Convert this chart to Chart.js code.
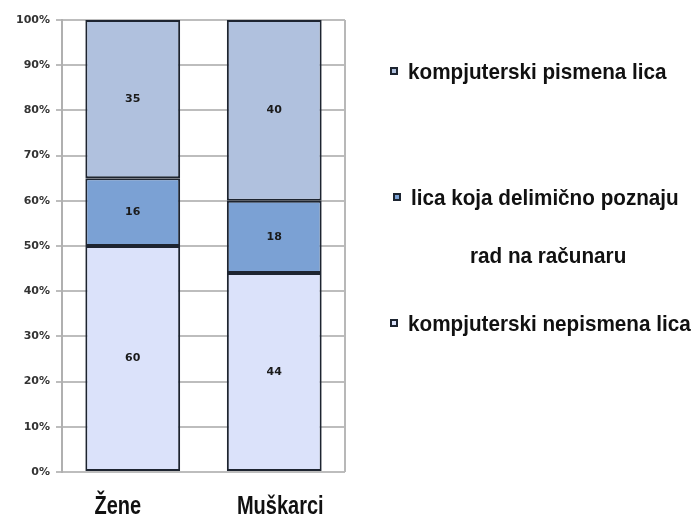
<!DOCTYPE html>
<html>
<head>
<meta charset="utf-8">
<script src="https://cdn.jsdelivr.net/npm/chart.js@4"></script>
<style>
  html, body { margin: 0; padding: 0; background: #fff; }
</style>
</head>
<body>
<canvas id="chart" width="694" height="517"></canvas>
<script>
// ── Data ───────────────────────────────────────────────────────────────
const categories = ['Žene', 'Muškarci'];

// shares as drawn (percent of each bar)
const nepismena  = [50, 44];
const delimicno  = [15, 16];
const pismena    = [35, 40];

// numbers printed inside the segments
const nepismenaText = ['60', '44'];
const delimicnoText = ['16', '18'];
const pismenaText   = ['35', '40'];

const yTicks = [0, 10, 20, 30, 40, 50, 60, 70, 80, 90, 100];

// legend, top to bottom: dataset index + text lines
const legendItems = [
  { ds: 2, lines: ['kompjuterski pismena lica'] },
  { ds: 1, lines: ['lica koja delimično poznaju', 'rad na računaru'] },
  { ds: 0, lines: ['kompjuterski nepismena lica'] },
];

const EDGE = '#1d2430';
const NARROW = 0.8;   // the source font is a condensed one

// ── Segment labels ──────────────────────────────────────────────────────
const segLabels = {
  id: 'segLabels',
  afterDatasetsDraw(chart) {
    const ctx = chart.ctx;
    ctx.save();
    ctx.font = 'bold 11px "DejaVu Sans", sans-serif';
    ctx.fillStyle = '#1a1a1a';
    ctx.textAlign = 'center';
    ctx.textBaseline = 'middle';
    chart.data.datasets.forEach((ds, i) => {
      chart.getDatasetMeta(i).data.forEach((bar, j) => {
        const p = bar.getProps(['x', 'y', 'base'], true);
        ctx.fillText(ds.texts[j], p.x, (p.y + p.base) / 2);
      });
    });
    ctx.restore();
  }
};

// right border of the plot
const plotFrame = {
  id: 'plotFrame',
  beforeDatasetsDraw(chart) {
    const { ctx, chartArea: a } = chart;
    ctx.save();
    ctx.strokeStyle = '#b8b8b8';
    ctx.lineWidth = 2;
    ctx.beginPath();
    ctx.moveTo(a.right, a.top);
    ctx.lineTo(a.right, a.bottom);
    ctx.stroke();
    ctx.restore();
  }
};

// condensed category names under the bars
const xNames = {
  id: 'xNames',
  afterDraw(chart) {
    const ctx = chart.ctx;
    const xs = chart.scales.x;
    const shift = [-15, 6];
    ctx.save();
    ctx.font = 'bold 25px "Liberation Sans", Arial, sans-serif';
    ctx.fillStyle = '#111';
    ctx.textAlign = 'center';
    ctx.textBaseline = 'alphabetic';
    categories.forEach((c, i) => {
      const x = xs.getPixelForValue(i) + shift[i];
      ctx.save();
      ctx.translate(x, 514);
      ctx.scale(NARROW, 1);
      ctx.fillText(c, 0, 0);
      ctx.restore();
    });
    ctx.restore();
  }
};

// legend on the right
const sideLegend = {
  id: 'sideLegend',
  afterDraw(chart) {
    const ctx = chart.ctx;
    const rows = [
      [{ x: 408, y: 79 }],
      [{ x: 411, y: 205 }, { x: 470, y: 263 }],
      [{ x: 408, y: 331 }],
    ];
    const marks = [{ x: 390, y: 67 }, { x: 393, y: 193 }, { x: 390, y: 319 }];
    ctx.save();
    ctx.font = 'bold 22px "Liberation Sans", Arial, sans-serif';
    ctx.textBaseline = 'alphabetic';
    legendItems.forEach((it, k) => {
      const m = marks[k];
      ctx.fillStyle = chart.data.datasets[it.ds].backgroundColor;
      ctx.fillRect(m.x, m.y, 8, 8);
      ctx.strokeStyle = EDGE;
      ctx.lineWidth = 2;
      ctx.strokeRect(m.x + 1, m.y + 1, 6, 6);
      ctx.fillStyle = '#111';
      it.lines.forEach((t, l) => {
        const p = rows[k][l];
        ctx.save();
        ctx.translate(p.x, p.y);
        ctx.scale(0.94, 1);
        ctx.fillText(t, 0, 0);
        ctx.restore();
      });
    });
    ctx.restore();
  }
};

// ── Chart ───────────────────────────────────────────────────────────────
new Chart(document.getElementById('chart'), {
  type: 'bar',
  data: {
    labels: categories,
    datasets: [
      { label: 'kompjuterski nepismena lica', data: nepismena, texts: nepismenaText, backgroundColor: '#dbe2fa' },
      { label: 'lica koja delimično poznaju rad na računaru', data: delimicno, texts: delimicnoText, backgroundColor: '#7ba1d4' },
      { label: 'kompjuterski pismena lica', data: pismena, texts: pismenaText, backgroundColor: '#b0c1de' },
    ].map(d => Object.assign(d, {
      borderColor: EDGE,
      borderWidth: 2,
      borderSkipped: false,
      barPercentage: 0.67,
      categoryPercentage: 1,
    })),
  },
  options: {
    responsive: false,
    animation: false,
    layout: { padding: { top: 20, right: 349, left: 0, bottom: 0 } },
    plugins: { legend: { display: false }, tooltip: { enabled: false } },
    scales: {
      x: {
        stacked: true,
        grid: { display: false },
        border: { display: false },
        ticks: { display: false },
        afterFit: s => { s.height = 45; },
      },
      y: {
        stacked: true,
        min: 0,
        max: 100,
        afterBuildTicks: s => { s.ticks = yTicks.map(v => ({ value: v })); },
        ticks: {
          color: '#333',
          font: { family: "'DejaVu Sans', sans-serif", size: 11, weight: 'bold' },
          padding: 6,
          callback: v => v + '%',
        },
        grid: { color: '#bdbdbd', lineWidth: 2, tickLength: 6 },
        border: { color: '#b0b0b0', width: 2 },
        afterFit: s => { s.width = 62; },
      },
    },
  },
  plugins: [plotFrame, segLabels, xNames, sideLegend],
});
</script>
</body>
</html>
